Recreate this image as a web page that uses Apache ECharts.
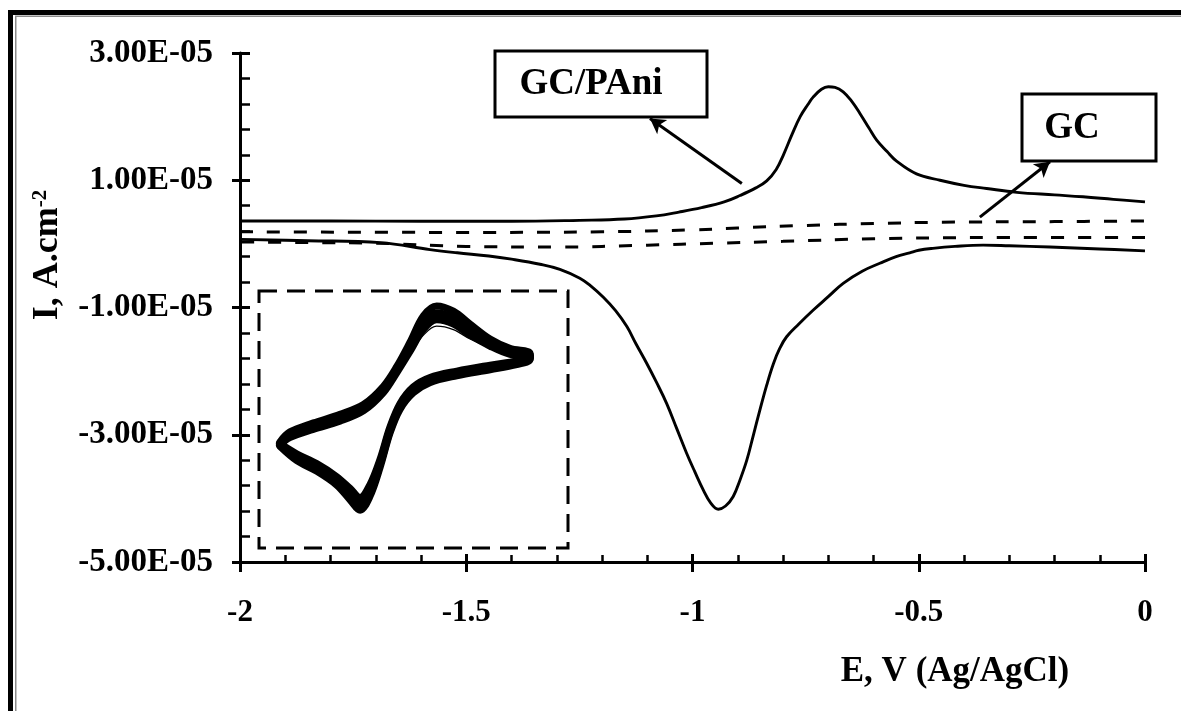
<!DOCTYPE html>
<html>
<head>
<meta charset="utf-8">
<script src="https://cdn.jsdelivr.net/npm/echarts@6/dist/echarts.min.js"></script>
<style>
  html, body { margin: 0; padding: 0; background: #fff; }
  #chart { width: 1181px; height: 711px; }
</style>
</head>
<body>
<div id="chart"></div>
<script>
// Potential E in V vs Ag/AgCl, current density I in units of 1e-5 A/cm^2

// GC/PAni, forward (anodic) scan -2 V -> 0 V
const paniFwdE = [-2.0, -1.8, -1.6, -1.4, -1.25, -1.15, -1.08, -1.03, -0.98, -0.93, -0.895, -0.86, -0.836, -0.815,
  -0.799, -0.78, -0.762, -0.745, -0.733, -0.715, -0.70, -0.685, -0.667, -0.648, -0.63, -0.61, -0.593, -0.57,
  -0.549, -0.505, -0.453, -0.40, -0.35, -0.283, -0.20, -0.137, -0.07, 0.0];
const paniFwdI = [0.36, 0.36, 0.355, 0.355, 0.37, 0.39, 0.44, 0.50, 0.57, 0.66, 0.76, 0.88, 0.99, 1.17,
  1.40, 1.72, 2.00, 2.19, 2.31, 2.43, 2.47, 2.46, 2.39, 2.24, 2.05, 1.82, 1.63, 1.45,
  1.30, 1.10, 1.00, 0.92, 0.87, 0.81, 0.77, 0.74, 0.70, 0.66];

// GC/PAni, reverse (cathodic) scan 0 V -> -2 V
const paniRevE = [0.0, -0.1, -0.21, -0.30, -0.358, -0.42, -0.469, -0.50, -0.52, -0.55, -0.586, -0.625, -0.667, -0.70,
  -0.733, -0.765, -0.792, -0.807, -0.821, -0.836, -0.851, -0.866, -0.88, -0.895, -0.91, -0.927, -0.943, -0.96,
  -0.976, -0.995, -1.013, -1.035, -1.057, -1.08, -1.101, -1.125, -1.145, -1.17, -1.197, -1.225, -1.249, -1.293,
  -1.337, -1.40, -1.45, -1.52, -1.58, -1.69, -1.85, -2.0];
const paniRevI = [-0.11, -0.08, -0.05, -0.03, -0.02, -0.04, -0.07, -0.10, -0.14, -0.20, -0.305, -0.43, -0.62, -0.83,
  -1.04, -1.26, -1.46, -1.64, -1.88, -2.22, -2.61, -3.02, -3.40, -3.71, -3.97, -4.12, -4.17, -4.07,
  -3.87, -3.58, -3.29, -2.90, -2.51, -2.17, -1.88, -1.57, -1.30, -1.05, -0.84, -0.66, -0.54, -0.40,
  -0.32, -0.24, -0.19, -0.14, -0.09, 0.02, 0.05, 0.07];

// bare GC, forward and reverse scans
const gcFwdE = [-2.0, -1.5, -1.2, -1.0, -0.9, -0.75, -0.6, -0.45, -0.2, 0.0];
const gcFwdI = [0.19, 0.18, 0.19, 0.22, 0.25, 0.29, 0.32, 0.34, 0.35, 0.36];
const gcRevE = [0.0, -0.3, -0.6, -0.8, -0.95, -1.1, -1.3, -1.5, -1.7, -1.85, -2.0];
const gcRevI = [0.10, 0.10, 0.08, 0.04, 0.01, -0.02, -0.05, -0.04, 0.01, 0.02, 0.03];

// inset: repeated cycles of the loop (E in V, I in uA), one potential list shared by all cycles
const insetE = [-0.132, -0.078, -0.013, 0.051, 0.095, 0.127, 0.159, 0.192, 0.224, 0.256, 0.299, 0.353, 0.440, 0.548, 0.634, 0.677,
  0.677, 0.612, 0.548, 0.483, 0.429, 0.375, 0.332, 0.289, 0.246, 0.202, 0.138, 0.062, -0.024, -0.100, -0.132];
const insetCycleOuter = [-6.3, -9.6, -12.1, -15.3, -18.8, -21.2, -18.0, -11.2, -3.2, 2.3, 6.2, 8.6, 10.2, 11.6, 12.8, 14.0,
  15.5, 16.6, 18.8, 22.3, 25.3, 26.5, 24.2, 18.1, 12.4, 7.7, 3.5, 1.2, -0.8, -2.9, -5.2];
const insetCycleMid = [-5.95, -8.68, -11.02, -14.12, -17.23, -19.56, -16.46, -10.22, -2.45, 2.99, 6.89, 9.22, 10.79, 12.19, 13.26, 14.29,
  15.06, 15.83, 17.79, 20.90, 23.63, 24.79, 22.46, 17.0, 11.56, 6.89, 2.62, 0.28, -1.68, -3.62, -5.56];
const insetCycleInner = [-5.6, -8.0, -10.3, -13.3, -16.1, -18.2, -15.2, -9.2, -1.7, 3.7, 7.6, 9.8, 11.3, 12.7, 13.7, 14.5,
  14.7, 15.2, 17.1, 19.7, 22.3, 23.3, 21.0, 15.9, 10.9, 6.2, 2.0, -0.4, -2.3, -4.2, -5.9];
const insetCycleFirst = [-5.6, -8.0, -10.3, -13.3, -16.1, -18.2, -15.2, -9.2, -1.7, 3.7, 7.6, 9.8, 11.3, 12.7, 13.7, 14.5,
  14.7, 15.1, 16.7, 18.8, 21.0, 21.8, 19.7, 15.3, 10.6, 6.0, 1.9, -0.4, -2.3, -4.2, -5.9];

// callout arrows: [tail, head] in axis units
const paniArrow = [[-0.891, 0.95], [-1.094, 1.97]];
const gcArrow = [[-0.365, 0.42], [-0.21, 1.29]];

const pairs = (xs, ys) => xs.map((x, i) => [x, ys[i]]);

const FONT = "'Liberation Serif', 'Times New Roman', serif";
const BLACK = '#000';

// tick label like 3.00E-05 (axis values are in 1e-5 A/cm^2)
function sciLabel(v) {
  const s = (v * 1e-5).toExponential(2);
  const parts = s.split('e');
  const exp = parseInt(parts[1], 10);
  const sign = exp < 0 ? '-' : '+';
  return parts[0] + 'E' + sign + String(Math.abs(exp)).padStart(2, '0');
}

const chart = echarts.init(document.getElementById('chart'), null, { renderer: 'canvas' });

const mainLine = { color: BLACK, width: 2.9 };
const dashLine = { color: BLACK, width: 3, type: [13, 14] };

function arrow(seg) {
  return {
    silent: true,
    symbol: ['none', 'arrow'],
    symbolSize: [13, 15],
    label: { show: false },
    lineStyle: { type: 'solid', color: BLACK, width: 3 },
    emphasis: { disabled: true },
    data: [[{ coord: seg[0] }, { coord: seg[1] }]]
  };
}

function curve(name, xs, ys, style, extra) {
  return Object.assign({
    name: name, type: 'line', data: pairs(xs, ys), smooth: 0.4,
    symbol: 'none', silent: true, lineStyle: style
  }, extra || {});
}

function insetSeries(name, values, width) {
  return {
    name: name, type: 'line', xAxisIndex: 2, yAxisIndex: 2,
    data: pairs(insetE, values), smooth: 0.35, symbol: 'none', silent: true,
    lineStyle: { color: BLACK, width: width, cap: 'round', join: 'round' }
  };
}

const option = {
  animation: false,
  backgroundColor: '#fff',
  grid: [
    { left: 240, top: 53, width: 905, height: 509 },
    { left: 259, top: 291, width: 309, height: 257 }
  ],
  xAxis: [
    {
      type: 'value', gridIndex: 0, position: 'bottom', min: -2, max: 0, interval: 0.5,
      axisLine: { onZero: false, lineStyle: { color: BLACK, width: 3 } },
      axisTick: { inside: true, length: 8, lineStyle: { color: BLACK, width: 3 } },
      minorTick: { show: true, splitNumber: 5, length: 7, lineStyle: { color: BLACK, width: 2.5 } },
      splitLine: { show: false },
      axisLabel: { margin: 35, color: BLACK, fontFamily: FONT, fontWeight: 'bold', fontSize: 31 }
    },
    {
      type: 'value', gridIndex: 0, position: 'bottom', min: -2, max: 0, interval: 0.5,
      axisLine: { show: false, onZero: false },
      axisTick: { inside: false, length: 10, lineStyle: { color: BLACK, width: 3 } },
      splitLine: { show: false },
      axisLabel: { show: false }
    },
    { type: 'value', gridIndex: 1, min: -0.2, max: 0.8, show: false }
  ],
  yAxis: [
    {
      type: 'value', gridIndex: 0, position: 'left', min: -5, max: 3, interval: 2,
      axisLine: { onZero: false, lineStyle: { color: BLACK, width: 3 } },
      axisTick: { inside: true, length: 10, lineStyle: { color: BLACK, width: 3 } },
      minorTick: { show: true, splitNumber: 5, length: 10, lineStyle: { color: BLACK, width: 2.5 } },
      splitLine: { show: false },
      axisLabel: { margin: 27, color: BLACK, fontFamily: FONT, fontWeight: 'bold', fontSize: 33, formatter: sciLabel }
    },
    {
      type: 'value', gridIndex: 0, position: 'left', min: -5, max: 3, interval: 2,
      axisLine: { show: false, onZero: false },
      axisTick: { inside: false, length: 8, lineStyle: { color: BLACK, width: 3 } },
      splitLine: { show: false },
      axisLabel: { show: false }
    },
    { type: 'value', gridIndex: 1, min: -30, max: 30, show: false }
  ],
  series: [
    curve('GC/PAni forward', paniFwdE, paniFwdI, mainLine, { markLine: arrow(paniArrow) }),
    curve('GC/PAni reverse', paniRevE, paniRevI, mainLine),
    curve('GC forward', gcFwdE, gcFwdI, dashLine, { markLine: arrow(gcArrow) }),
    curve('GC reverse', gcRevE, gcRevI, dashLine),
    insetSeries('cycle outer', insetCycleOuter, 7),
    insetSeries('cycle mid', insetCycleMid, 8),
    insetSeries('cycle inner', insetCycleInner, 7),
    insetSeries('first cycle', insetCycleFirst, 1.3)
  ],
  graphic: [
    // double frame on the left and top of the figure
    { type: 'rect', silent: true, shape: { x: 10.5, y: 12.5, width: 1200, height: 720 },
      style: { fill: null, stroke: BLACK, lineWidth: 5 } },
    { type: 'rect', silent: true, shape: { x: 15.75, y: 16.25, width: 1200, height: 720 },
      style: { fill: null, stroke: '#8a8a8a', lineWidth: 1.5 } },
    // inset frame
    { type: 'rect', silent: true, shape: { x: 259, y: 291, width: 309, height: 257 },
      style: { fill: null, stroke: BLACK, lineWidth: 3, lineDash: [18, 10] } },
    // callout boxes
    { type: 'rect', silent: true, shape: { x: 495, y: 51, width: 212, height: 66 },
      style: { fill: '#fff', stroke: BLACK, lineWidth: 3 } },
    { type: 'text', silent: true, x: 591, y: 84,
      style: { text: 'GC/PAni', fill: BLACK, font: 'bold 37px ' + FONT, align: 'center', verticalAlign: 'middle' } },
    { type: 'rect', silent: true, shape: { x: 1022, y: 94, width: 134, height: 67 },
      style: { fill: '#fff', stroke: BLACK, lineWidth: 3 } },
    { type: 'text', silent: true, x: 1072, y: 128,
      style: { text: 'GC', fill: BLACK, font: 'bold 37px ' + FONT, align: 'center', verticalAlign: 'middle' } },
    // axis titles
    { type: 'text', silent: true, x: 955, y: 672,
      style: { text: 'E, V (Ag/AgCl)', fill: BLACK, font: 'bold 35px ' + FONT, align: 'center', verticalAlign: 'middle' } },
    { type: 'text', silent: true, x: 48, y: 255, rotation: Math.PI / 2,
      style: {
        text: '{b|I, A.cm}{s|-2}', align: 'center', verticalAlign: 'middle',
        rich: {
          b: { fontFamily: FONT, fontWeight: 'bold', fontSize: 36, fill: BLACK },
          s: { fontFamily: FONT, fontWeight: 'bold', fontSize: 21, fill: BLACK, verticalAlign: 'top' }
        }
      } }
  ]
};

chart.setOption(option);
</script>
</body>
</html>
